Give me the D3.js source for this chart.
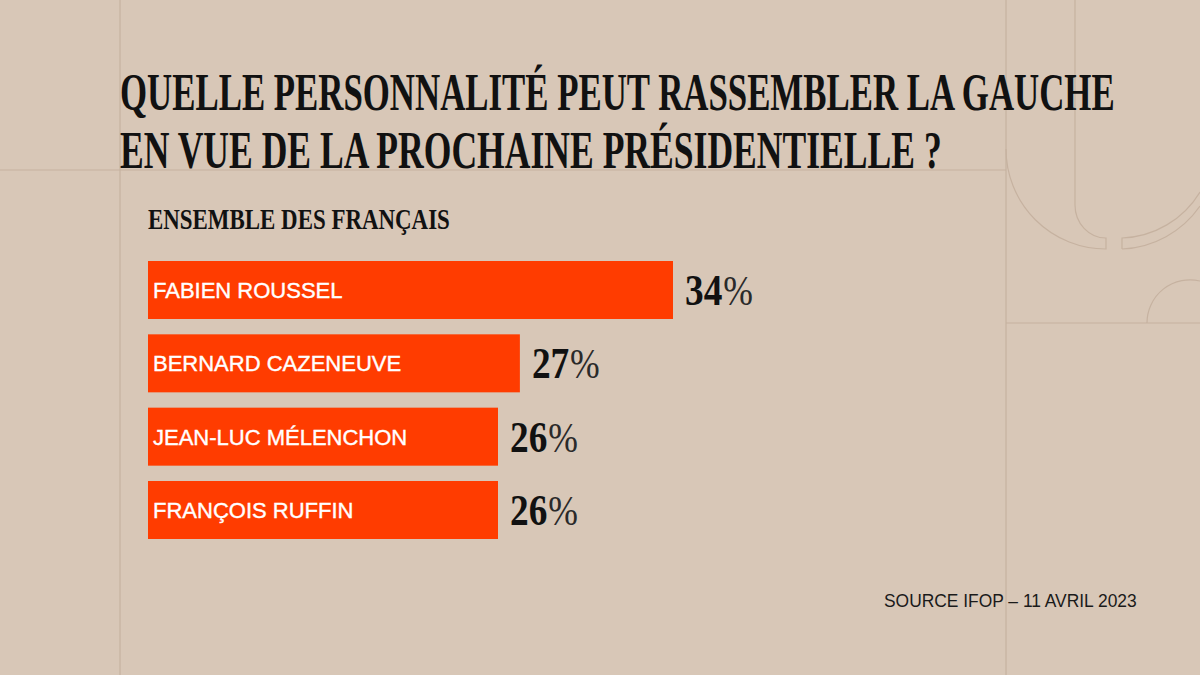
<!DOCTYPE html>
<html><head><meta charset="utf-8">
<script src="https://cdn.jsdelivr.net/npm/d3@7"></script>
<style>html,body{margin:0;padding:0;background:#d8c7b7;} svg{display:block}</style>
</head><body><svg id="chart" width="1200" height="675"></svg>
<script>
// ---- data ----
const titleLines = ["QUELLE PERSONNALITÉ PEUT RASSEMBLER LA GAUCHE", "EN VUE DE LA PROCHAINE PRÉSIDENTIELLE ?"];
const subtitle = "ENSEMBLE DES FRANÇAIS";
const categories = ["FABIEN ROUSSEL", "BERNARD CAZENEUVE", "JEAN-LUC MÉLENCHON", "FRANÇOIS RUFFIN"];
const values = [34, 27, 26, 26];
const source = "SOURCE IFOP – 11 AVRIL 2023";

// ---- styles ----
const W = 1200, H = 675;
const BG = "#d8c7b7", LINE = "#c6b2a0", BAR = "#ff3c00", INK = "#111";
const svg = d3.select("#chart");

svg.append("rect").attr("width", W).attr("height", H).attr("fill", BG);

// squeeze a text horizontally to a target width, anchored at (x, y)
function fitWidth(sel, x, y, target) {
  sel.each(function (d, i) {
    const t = typeof target === "function" ? target(d, i) : target;
    const xx = typeof x === "function" ? x(d, i) : x;
    const yy = typeof y === "function" ? y(d, i) : y;
    const w = this.getComputedTextLength();
    d3.select(this).attr("x", 0).attr("y", 0)
      .attr("transform", `translate(${xx},${yy}) scale(${t / w},1)`);
  });
}

// decorative background lines
const deco = svg.append("g").attr("fill", "none").attr("stroke", LINE).attr("stroke-width", 1.2);
deco.append("line").attr("x1", 120).attr("x2", 120).attr("y1", 0).attr("y2", H);
deco.append("line").attr("x1", 1006).attr("x2", 1006).attr("y1", 0).attr("y2", H);
deco.append("line").attr("x1", 0).attr("x2", 1006).attr("y1", 170).attr("y2", 170);
deco.append("line").attr("x1", 1006).attr("x2", W).attr("y1", 323).attr("y2", 323);
deco.append("path").attr("d", "M1006,149 A100,100 0 0 0 1106,249 L1106,238 A31,33 0 0 1 1075,205 L1075,0");
deco.append("path").attr("d", "M1122,249 L1122,238 A95,95 0 0 0 1200,192");
deco.append("path").attr("d", "M1122,249 A100,100 0 0 0 1200,206");
deco.append("path").attr("d", "M1147,323 A43,43 0 0 1 1200,281");

// title
const titleWidths = [995, 822];
svg.append("g").attr("font-family", "'Liberation Serif', serif").attr("font-weight", "bold").attr("fill", INK)
  .selectAll("text").data(titleLines).join("text")
  .attr("font-size", 53)
  .text(d => d)
  .call(fitWidth, 120, (d, i) => 110 + i * 58, (d, i) => titleWidths[i]);

svg.append("text")
  .attr("font-family", "'Liberation Serif', serif").attr("font-weight", "bold").attr("font-size", 29)
  .attr("fill", INK).text(subtitle)
  .call(fitWidth, 148, 229, 302);

// scales
const data = categories.map((c, i) => ({ name: c, value: values[i] }));
const x = d3.scaleLinear().domain([10, 34]).range([148, 673]);
const y = d3.scaleBand().domain(categories).range([261, 539]).paddingInner(0.209);

const rows = svg.append("g").selectAll("g").data(data).join("g");
rows.append("rect")
  .attr("x", x(10)).attr("y", d => y(d.name))
  .attr("width", d => x(d.value) - x(10)).attr("height", y.bandwidth())
  .attr("fill", BAR);
rows.append("text")
  .attr("x", x(10) + 5).attr("y", d => y(d.name) + y.bandwidth() / 2 + 8)
  .attr("font-family", "'Liberation Sans', Arial, sans-serif").attr("font-size", 22)
  .attr("fill", "#fff").attr("stroke", "#fff").attr("stroke-width", 0.4)
  .text(d => d.name);
const pct = rows.append("text")
  .attr("font-family", "'Liberation Serif', serif").attr("fill", INK);
pct.append("tspan").attr("font-weight", "bold").attr("font-size", 44).text(d => d.value);
pct.append("tspan").attr("font-weight", "normal").attr("font-size", 42).attr("fill", "#2a2a2a").attr("dx", 1).text("%");
pct.call(fitWidth, d => x(d.value) + 12, d => y(d.name) + y.bandwidth() / 2 + 15, 67);

svg.append("text")
  .attr("font-family", "'Liberation Sans', Arial, sans-serif").attr("font-size", 17.5)
  .attr("fill", "#1a1a1a").text(source)
  .call(fitWidth, 884, 607, 253);
</script></body></html>
